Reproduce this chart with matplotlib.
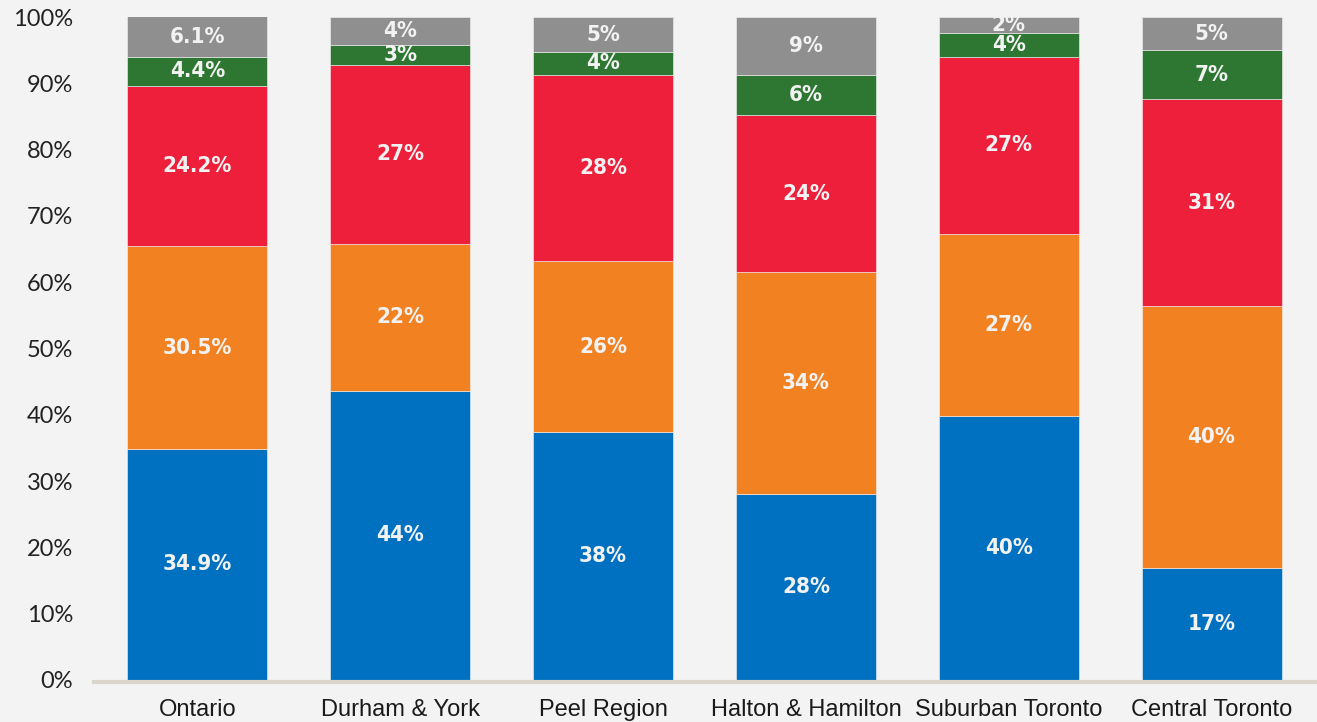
import numpy as np
import matplotlib.pyplot as plt

plt.rcParams['font.family'] = ['Liberation Sans', 'DejaVu Sans']

regions = ['Ontario', 'Durham & York', 'Peel Region', 'Halton & Hamilton',
           'Suburban Toronto', 'Central Toronto']

# segment shares (%), bottom to top
blue = [34.9, 43.6, 37.4, 28.1, 39.8, 16.9]
orange = [30.5, 22.2, 25.8, 33.4, 27.5, 39.5]
red = [24.2, 27.0, 28.1, 23.7, 26.7, 31.2]
green = [4.4, 3.0, 3.4, 6.0, 3.6, 7.4]
gray = [6.1, 4.2, 5.3, 8.8, 2.4, 5.0]

# labels printed on the segments
blue_lbl = ['34.9%', '44%', '38%', '28%', '40%', '17%']
orange_lbl = ['30.5%', '22%', '26%', '34%', '27%', '40%']
red_lbl = ['24.2%', '27%', '28%', '24%', '27%', '31%']
green_lbl = ['4.4%', '3%', '4%', '6%', '4%', '7%']
gray_lbl = ['6.1%', '4%', '5%', '9%', '2%', '5%']

series = [blue, orange, red, green, gray]
labels = [blue_lbl, orange_lbl, red_lbl, green_lbl, gray_lbl]
colors = ['#0070c0', '#f28122', '#ed1f3a', '#2e7732', '#8f8f8f']

bg = '#f3f3f3'
fig = plt.figure(figsize=(13.17, 7.22), dpi=100, facecolor=bg)
ax = fig.add_axes([94 / 1317, 42 / 722, 1 - 94 / 1317, 663 / 722])
ax.set_facecolor(bg)

x = np.arange(len(regions))
bottom = np.zeros(len(regions))
for vals, lbls, c in zip(series, labels, colors):
    v = np.array(vals) / 100
    ax.bar(x, v, bottom=bottom, width=0.69, color=c, edgecolor=bg, linewidth=0.4)
    for xi, b, h, t in zip(x, bottom, v, lbls):
        ax.text(xi, b + h / 2, t, ha='center', va='center', color='#f2f2f2',
                fontsize=16, fontweight='bold', family='DejaVu Sans',
                fontstretch='condensed')
    bottom += v

ax.set_xlim(-0.51, 5.52)
ax.set_ylim(0, 1)
yt = np.arange(0, 1.01, 0.1)
ax.set_yticks(yt)
ax.set_yticklabels([f'{int(round(t * 100))}%' for t in yt], fontfamily='Lato')
ax.set_xticks(x)
ax.set_xticklabels(regions)
ax.tick_params(axis='both', length=0)
ax.tick_params(axis='y', pad=15, labelsize=17, labelcolor='#222222')
ax.tick_params(axis='x', pad=12, labelsize=17, labelcolor='#1a1a1a')

for s in ['top', 'right', 'left']:
    ax.spines[s].set_visible(False)
ax.spines['bottom'].set_color('#d9d5cc')
ax.spines['bottom'].set_linewidth(3)
ax.spines['bottom'].set_position(('outward', 1.5))

fig.savefig('out.png', dpi=100, facecolor=bg)
